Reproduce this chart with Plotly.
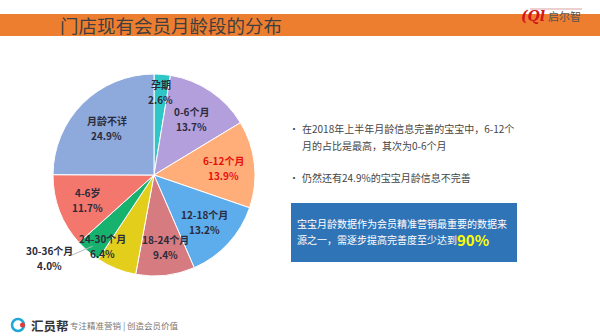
import math
import plotly.graph_objects as go

labels = ["孕期", "0-6个月", "6-12个月", "12-18个月", "18-24个月", "24-30个月", "30-36个月", "4-6岁", "月龄不详"]
values = [2.6, 13.7, 13.9, 13.2, 9.4, 6.4, 4.0, 11.7, 24.9]
colors = ["#2FC6C8", "#B39FDC", "#FFAE7A", "#5DADEC", "#D67B80", "#E3CF1B", "#17B26E", "#F4776E", "#8EA9DB"]

W, H = 600, 336
CX, CY, R = 154, 175, 101

fig = go.Figure()
fig.add_trace(go.Pie(
    labels=labels, values=values, sort=False, direction="clockwise", rotation=0,
    marker=dict(colors=colors, line=dict(color="white", width=1)),
    textinfo="none", hoverinfo="label+percent", showlegend=False,
    domain=dict(x=[(CX - R) / W, (CX + R) / W], y=[(H - CY - R) / H, (H - CY + R) / H]),
))

def px(x): return x / W
def py(y): return 1 - y / H

ann = []
shapes = []

# pie labels, placed by slice mid-angle
total = sum(values)
cum = 0
radius_frac = [0.82, 0.67, 0.69, 0.68, 0.72, 0.87, None, 0.70, 0.66]
angle_nudge = [0, 0, 0, 0, -3, 14, 0, 0, 0]
for i, (lab, v) in enumerate(zip(labels, values)):
    mid = (cum + v / 2) / total * 360
    cum += v
    col = "#E8100C" if lab == "6-12个月" else "#2B2B3B"
    if radius_frac[i] is None:
        a = math.radians(mid)
        ex, ey = CX + R * 0.93 * math.sin(a), CY - R * 0.93 * math.cos(a)
        lx, ly = 49, 258
        shapes.append(dict(type="line", xref="paper", yref="paper",
                           x0=px(ex), y0=py(ey), x1=px(lx + 23), y1=py(ly - 3),
                           line=dict(color="#BBBBBB", width=1)))
    else:
        a = math.radians(mid + angle_nudge[i])
        r = R * radius_frac[i]
        lx, ly = CX + r * math.sin(a), CY - r * math.cos(a)
    for dy, t in [(-7.5, lab), (7.5, f"{v:.1f}%")]:
        ann.append(dict(x=px(lx), y=py(ly + dy), xref="paper", yref="paper", showarrow=False,
                        text=f"<b>{t}</b>", align="center",
                        font=dict(size=10, color=col, family="Noto Sans CJK SC"),
                        xanchor="center", yanchor="middle"))

# title bar arrow
shapes.append(dict(type="path", path="M 0 {0} L 47 {0} L 53 {1} L 47 {2} L 0 {2} Z".format(py(14), py(25), py(36)),
                   xref="paper", yref="paper", fillcolor="#EE7E2F", line=dict(width=0)))
ann.append(dict(x=px(58), y=py(25), xref="paper", yref="paper", showarrow=False,
                text="门店现有会员月龄段的分布", xanchor="left", yanchor="middle",
                font=dict(size=18.5, color="#3F3F3F", family="Noto Sans CJK SC")))

# top-right logo
shapes.append(dict(type="line", xref="paper", yref="paper", x0=px(530), y0=py(9), x1=px(582), y1=py(9),
                   line=dict(color="#D9A0A0", width=1)))
ann.append(dict(x=px(519), y=py(16), xref="paper", yref="paper", showarrow=False, xanchor="left", yanchor="middle",
                text="<b><i>(Ql</i></b>", font=dict(size=14, color="#D2141C", family="DejaVu Serif")))
ann.append(dict(x=px(546), y=py(16), xref="paper", yref="paper", showarrow=False, xanchor="left", yanchor="middle",
                text="启尔智", font=dict(size=11, color="#555555", family="Noto Sans CJK SC")))

# bullets
bul_font = dict(size=10, color="#454545", family="Noto Sans CJK SC")
for x, y, t in [(287, 128, "•"), (287, 177, "•")]:
    ann.append(dict(x=px(x), y=py(y), xref="paper", yref="paper", showarrow=False, text=t,
                    xanchor="left", yanchor="middle", font=bul_font))
for y, t in [(128, "在2018年上半年月龄信息完善的宝宝中，6-12个"), (145, "月的占比是最高，其次为0-6个月"),
             (177, "仍然还有24.9%的宝宝月龄信息不完善")]:
    ann.append(dict(x=px(300), y=py(y), xref="paper", yref="paper", showarrow=False, text=t,
                    xanchor="left", yanchor="middle", font=bul_font))

# blue box
shapes.append(dict(type="rect", xref="paper", yref="paper", x0=px(291), x1=px(517), y0=py(203), y1=py(262),
                   fillcolor="#2E74B6", line=dict(width=0)))
box_font = dict(size=10, color="white", family="Noto Sans CJK SC")
ann.append(dict(x=px(296), y=py(223), xref="paper", yref="paper", showarrow=False, xanchor="left", yanchor="middle",
                text="宝宝月龄数据作为会员精准营销最重要的数据来", font=box_font, borderpad=0))
ann.append(dict(x=px(296), y=py(239), xref="paper", yref="paper", showarrow=False, xanchor="left", yanchor="middle",
                text="源之一，需逐步提高完善度至少达到", font=box_font, borderpad=0))
ann.append(dict(x=px(456), y=py(239), xref="paper", yref="paper", showarrow=False, xanchor="left", yanchor="middle",
                text="<b>90%</b>", font=dict(size=15, color="#FFFF00", family="Noto Sans CJK SC"), borderpad=0))

# bottom-left logo
shapes.append(dict(type="circle", xref="paper", yref="paper", x0=px(12), x1=px(24), y0=py(319), y1=py(331),
                   line=dict(color="#1FA7D8", width=2.5)))
shapes.append(dict(type="circle", xref="paper", yref="paper", x0=px(20), x1=px(25), y0=py(322.5), y1=py(327.5),
                   fillcolor="#E23A3A", line=dict(width=0)))
ann.append(dict(x=px(29), y=py(325), xref="paper", yref="paper", showarrow=False, xanchor="left", yanchor="middle",
                text="<b>汇员帮</b>", font=dict(size=12.5, color="#333333", family="Noto Sans CJK SC")))
ann.append(dict(x=px(68), y=py(325), xref="paper", yref="paper", showarrow=False, xanchor="left", yanchor="middle",
                text="专注精准营销 | 创造会员价值", font=dict(size=8.5, color="#777777", family="Noto Sans CJK SC")))

fig.update_layout(width=W, height=H, margin=dict(l=0, r=0, t=0, b=0),
                  paper_bgcolor="white", plot_bgcolor="white",
                  annotations=ann, shapes=shapes)
fig.write_html("out.html")
